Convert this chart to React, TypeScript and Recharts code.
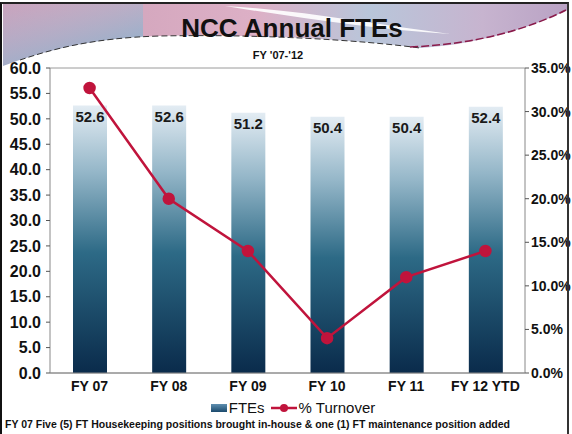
import React from 'react';
import { ComposedChart, Bar, Line, XAxis, YAxis, CartesianGrid, Legend, LabelList } from 'recharts';

const categories = ['FY 07', 'FY 08', 'FY 09', 'FY 10', 'FY 11', 'FY 12 YTD'];
const ftes = [52.6, 52.6, 51.2, 50.4, 50.4, 52.4];
const turnover = [32.7, 20.0, 14.0, 4.0, 11.0, 14.0];
const leftTicks = [0, 5, 10, 15, 20, 25, 30, 35, 40, 45, 50, 55, 60];
const rightTicks = [0, 5, 10, 15, 20, 25, 30, 35];
const title = 'NCC Annual FTEs';
const subtitle = "FY '07-'12";
const footnote = 'FY 07 Five (5) FT Housekeeping positions brought in-house & one (1) FT maintenance position added';

const data = categories.map((c, i) => ({ cat: c, fte: ftes[i], turnover: turnover[i] }));

const FONT = '"Liberation Sans", Arial, sans-serif';
const RED = '#c0143c';

const renderLegend = () => (
  <div style={{ display: 'flex', justifyContent: 'center', alignItems: 'center', fontFamily: FONT, fontSize: 15, color: '#111', paddingLeft: 14 }}>
    <span style={{ display: 'inline-block', width: 16, height: 8, background: 'linear-gradient(#5f8fb0,#1b4a6d)', marginRight: 2 }} />
    <span>FTEs</span>
    <svg width={26} height={12} style={{ margin: '0 2px 0 6px' }}>
      <line x1={0} y1={6} x2={26} y2={6} stroke={RED} strokeWidth={2.5} />
      <circle cx={13} cy={6} r={4} fill={RED} />
    </svg>
    <span>% Turnover</span>
  </div>
);

export default function App() {
  return (
    <div style={{ position: 'absolute', left: 0, top: 0, width: 572, height: 434, background: '#fff', overflow: 'hidden' }}>
      <svg width={572} height={434} style={{ position: 'absolute', left: 0, top: 0 }}>
        <defs>
          <linearGradient id="hdr" x1="0" y1="0" x2="1" y2="0">
            <stop offset="0" stopColor="#c9a3bd" />
            <stop offset="0.2" stopColor="#d3a6bd" />
            <stop offset="0.45" stopColor="#ddb0c6" />
            <stop offset="0.65" stopColor="#b8c6da" />
            <stop offset="0.85" stopColor="#c7b4cf" />
            <stop offset="1" stopColor="#b9a2c4" />
          </linearGradient>
          <linearGradient id="hdrBlue" x1="0" y1="0" x2="0.6" y2="1">
            <stop offset="0" stopColor="#9fc0d8" stopOpacity={0} />
            <stop offset="1" stopColor="#7fb0cc" stopOpacity={0.9} />
          </linearGradient>
        </defs>
        <rect x={3} y={3} width={564} height={72} fill="url(#hdr)" />
        <rect x={3} y={3} width={140} height={72} fill="url(#hdrBlue)" />
        <path d="M225,6 C300,10 380,25 450,34 C380,30 300,18 225,6 Z" fill="#fff" opacity={0.9} />
        <path d="M3,66 C40,52 90,38 160,36 C260,34 360,40 420,48 C480,44 530,28 572,8 L572,434 L0,434 Z" fill="#fff" />
        <path d="M20,60 C50,50 90,38 160,36 C260,34 360,40 420,48" fill="none" stroke="#333" strokeWidth={1} strokeDasharray="6 3" />
        <path d="M410,47 C480,44 530,28 566,10" fill="none" stroke="#8a1a4a" strokeWidth={1.5} strokeDasharray="8 3" />
        <text x={292} y={37} textAnchor="middle" fontFamily={FONT} fontWeight="bold" fontSize={26} fill="#111">{title}</text>
        <text x={278} y={59} textAnchor="middle" fontFamily={FONT} fontWeight="bold" fontSize={11} fill="#111">{subtitle}</text>
        <text x={5} y={428} fontFamily={FONT} fontWeight="bold" fontSize={10.5} fill="#111">{footnote}</text>
      </svg>
      <div style={{ position: 'absolute', left: 0, top: 0 }}>
        <ComposedChart width={572} height={434} data={data} margin={{ top: 68, right: 0, left: 0, bottom: 13 }}>
          <defs>
            <linearGradient id="barGrad" x1="0" y1="0" x2="0" y2="1">
              <stop offset="0" stopColor="#e3ecf3" />
              <stop offset="0.25" stopColor="#94b6c8" />
              <stop offset="0.55" stopColor="#2d6a86" />
              <stop offset="1" stopColor="#0a2b4b" />
            </linearGradient>
          </defs>
          <CartesianGrid vertical={false} stroke="#9a9a9a" />
          <XAxis dataKey="cat" tickLine={false} axisLine={{ stroke: '#888' }} height={26}
            tick={{ fontFamily: FONT, fontWeight: 'bold', fontSize: 14, fill: '#111' }} interval={0} />
          <YAxis yAxisId="left" orientation="left" domain={[0, 60]} ticks={leftTicks} width={50}
            tickFormatter={(v: number) => v.toFixed(1)} axisLine={{ stroke: '#888' }} tickLine={{ stroke: '#555' }} tickSize={4} tickMargin={5}
            tick={{ fontFamily: FONT, fontWeight: 'bold', fontSize: 16, fill: '#111' }} />
          <YAxis yAxisId="right" orientation="right" domain={[0, 35]} ticks={rightTicks} width={47}
            tickFormatter={(v: number) => v.toFixed(1) + '%'} axisLine={{ stroke: '#888' }} tickLine={{ stroke: '#555' }} tickSize={4}
            tick={{ fontFamily: FONT, fontWeight: 'bold', fontSize: 14, fill: '#111' }} />
          <Legend verticalAlign="bottom" height={22} content={renderLegend} />
          <Bar yAxisId="left" dataKey="fte" name="FTEs" fill="url(#barGrad)" barSize={34} isAnimationActive={false}>
            <LabelList dataKey="fte" position="insideTop" offset={6}
              formatter={(v: number) => v.toFixed(1)}
              style={{ fontFamily: FONT, fontSize: 15, fontWeight: 'bold', fill: '#1a1a1a' }} />
          </Bar>
          <Line yAxisId="right" type="linear" dataKey="turnover" name="% Turnover" stroke={RED} strokeWidth={2.5}
            dot={{ r: 5, fill: RED, stroke: RED }} isAnimationActive={false} />
        </ComposedChart>
      </div>
      <div style={{ position: 'absolute', left: 0, top: 2, width: 565, height: 440, borderLeft: '2px solid #111', borderTop: '2px solid #222', borderRight: '2px solid #333', pointerEvents: 'none' }} />
    </div>
  );
}
